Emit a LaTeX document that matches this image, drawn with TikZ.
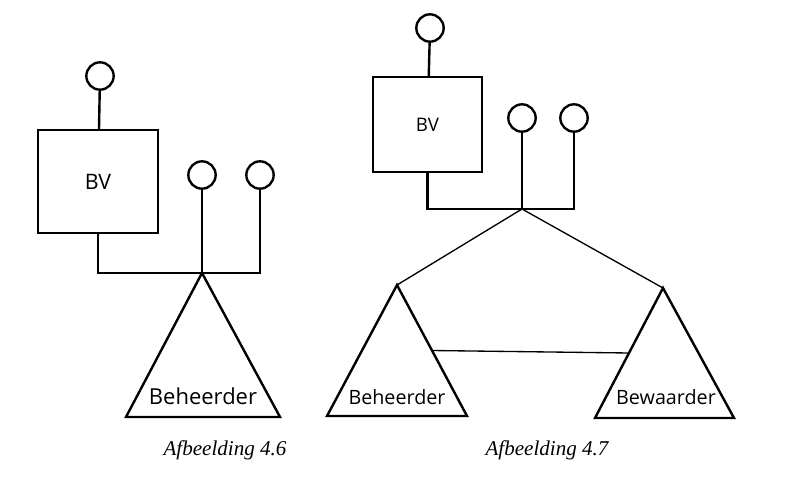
\documentclass[tikz,border=0pt]{standalone}
\usepackage{fontspec}
\setmainfont{Open Sans}
\newfontfamily\captionfont{Liberation Serif}
\usetikzlibrary{calc}
\begin{document}
\begin{tikzpicture}[
                                x = 0.75pt,
                                y = -0.75pt,
                                line join = miter,
                                ultra thick
                                ]

                                \tikzstyle{dot}=[
                                        draw = black,
                                        circle,
                                        line width = 1.8pt,
                                        fill = white,
                                        inner sep = 0pt,
                                        minimum size = 20.5pt
                                ]
                                \tikzstyle{bv}=[
                                        draw = black,
                                        rectangle,
                                        line width = 1.8pt,
                                        inner sep = 0pt
                                ]
                                \tikzstyle{thin}=[line width = 1pt]
                                \tikzstyle{wedge}=[line width = 1.8pt, line join = miter]
                                \tikzstyle{party}=[font = \fontsize{16.5}{19}\selectfont]
                                \tikzstyle{figcap}=[font = \captionfont\itshape\fontsize{15.8}{19}\selectfont]

                                \useasboundingbox (0,0) rectangle (800,478);

                                % Afbeelding 4.6
                                \node[dot] (a1) at (100,76) {};
                                \node[bv, minimum width = 90pt, minimum height = 77pt] (bva) at (98,181.5) {\fontsize{16}{19}\selectfont BV};
                                \node[dot] (a2) at (202,175) {};
                                \node[dot] (a3) at (260,175) {};
                                \coordinate (ja) at (202,273);
                                \coordinate (ta) at (126,417);
                                \coordinate (tb) at (280,417);

                                \draw[wedge] (ja) -- (tb) -- (ta) -- cycle;
                                \draw[line width = 1.8pt] (a1) -- (bva);
                                \draw[line width = 1.8pt] (bva.south) |- (ja) -| (a3);
                                \draw[line width = 1.8pt] (a2) -- (ja);
                                \node[party] (beha) at (203,396) {Beheerder};
                                \node[figcap] (cap6) at (225,450) {Afbeelding 4.6};

                                % Afbeelding 4.7
                                \node[dot] (b1) at (430,28) {};
                                \node[bv, minimum width = 82pt, minimum height = 71pt] (bvb) at (427.5,124.5) {\fontsize{14}{17}\selectfont BV};
                                \node[dot] (b2) at (522,118) {};
                                \node[dot] (b3) at (574,118) {};
                                \coordinate (jb) at (522,209);
                                \coordinate (la) at (397,285);
                                \coordinate (lb) at (327,416);
                                \coordinate (lc) at (467,416);
                                \coordinate (ra) at (663,288);
                                \coordinate (rb) at (595,418);
                                \coordinate (rc) at (734,418);

                                \draw[wedge] (la) -- (lc) -- (lb) -- cycle;
                                \draw[wedge] (ra) -- (rc) -- (rb) -- cycle;
                                \draw[line width = 1.8pt] (b1) -- (bvb);
                                \draw[line width = 1.8pt] (bvb.south) |- (jb) -| (b3);
                                \draw[line width = 1.8pt] (b2) -- (jb);
                                \draw[thin] (jb) -- (la);
                                \draw[thin] (jb) -- (ra);
                                \draw[thin] ($(la)!0.5!(lc)$) -- ($(ra)!0.5!(rb)$);
                                \node[party, font = \fontsize{14.8}{17}\selectfont] (behb) at (397,397) {Beheerder};
                                \node[party, font = \fontsize{14.8}{17}\selectfont] (bew) at (666,397) {Bewaarder};
                                \node[figcap] (cap7) at (547,450) {Afbeelding 4.7};
                       \end{tikzpicture}
\end{document}
